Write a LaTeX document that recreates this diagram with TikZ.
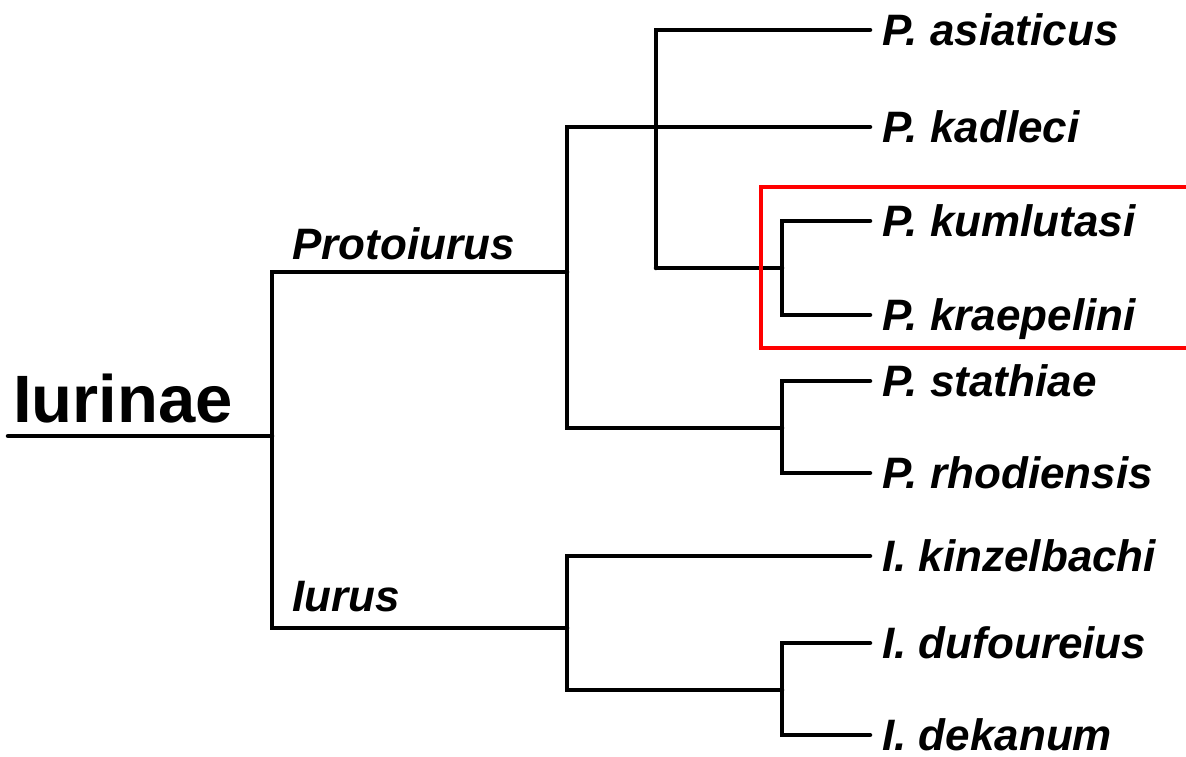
\documentclass[tikz,border=0pt]{standalone}
\usepackage{fontspec}
\setmainfont{Liberation Sans}
\begin{document}
\begin{tikzpicture}[x=1pt,y=-1pt,
  branch/.style={line width=4.5pt, line cap=round, line join=miter},
  taxon/.style={anchor=west, font=\fontsize{44}{44}\selectfont\bfseries\itshape,
    inner xsep=12pt, inner ysep=0pt, text height=31pt, text depth=0pt},
  clade/.style={anchor=base west, font=\fontsize{44}{44}\selectfont\bfseries\itshape, inner sep=0pt},
  highlight/.style={draw=red, line width=3.5pt, line join=miter},
]
\useasboundingbox (0,0) rectangle (1186,757);

% root and clade labels
\node[anchor=base west, inner sep=0pt, font=\fontsize{67}{67}\selectfont\bfseries] (iurinae) at (13,422) {Iurinae};
\node[clade] (protoiurus) at (292,259) {Protoiurus};
\node[clade] (iurus) at (292,611) {Iurus};

% terminal taxa
\node[taxon] (asiaticus)   at (870,30)  {P. asiaticus};
\node[taxon] (kadleci)     at (870,127) {P. kadleci};
\node[taxon] (kumlutasi)   at (870,221) {P. kumlutasi};
\node[taxon] (kraepelini)  at (870,315) {P. kraepelini};
\node[taxon] (stathiae)    at (870,381) {P. stathiae};
\node[taxon] (rhodiensis)  at (870,473) {P. rhodiensis};
\node[taxon] (kinzelbachi) at (870,556) {I. kinzelbachi};
\node[taxon] (dufoureius)  at (870,643) {I. dufoureius};
\node[taxon] (dekanum)     at (870,735) {I. dekanum};

% internal nodes
\coordinate (stem) at (8,436);
\coordinate (root) at (272,436);
\coordinate (prot) at (567,272);
\coordinate (iur)  at (567,628);
\coordinate (pA)   at (656,268);
\coordinate (pK)   at (782,268);
\coordinate (pS)   at (782,428);
\coordinate (iD)   at (782,690);

% branches
\draw[branch] (stem) -- (root);
\draw[branch] (root) |- (prot);
\draw[branch] (root) |- (iur);
\draw[branch] (prot) |- (kadleci.west);
\draw[branch] (prot) |- (pS);
\draw[branch] (pA) |- (asiaticus.west);
\draw[branch] (pA) -- (pK);
\draw[branch] (pK) |- (kumlutasi.west);
\draw[branch] (pK) |- (kraepelini.west);
\draw[branch] (pS) |- (stathiae.west);
\draw[branch] (pS) |- (rhodiensis.west);
\draw[branch] (iur) |- (kinzelbachi.west);
\draw[branch] (iur) |- (iD);
\draw[branch] (iD) |- (dufoureius.west);
\draw[branch] (iD) |- (dekanum.west);

% highlighted pair
\draw[highlight] (1188,187) -| (761,348) -- (1188,348);
\end{tikzpicture}
\end{document}
